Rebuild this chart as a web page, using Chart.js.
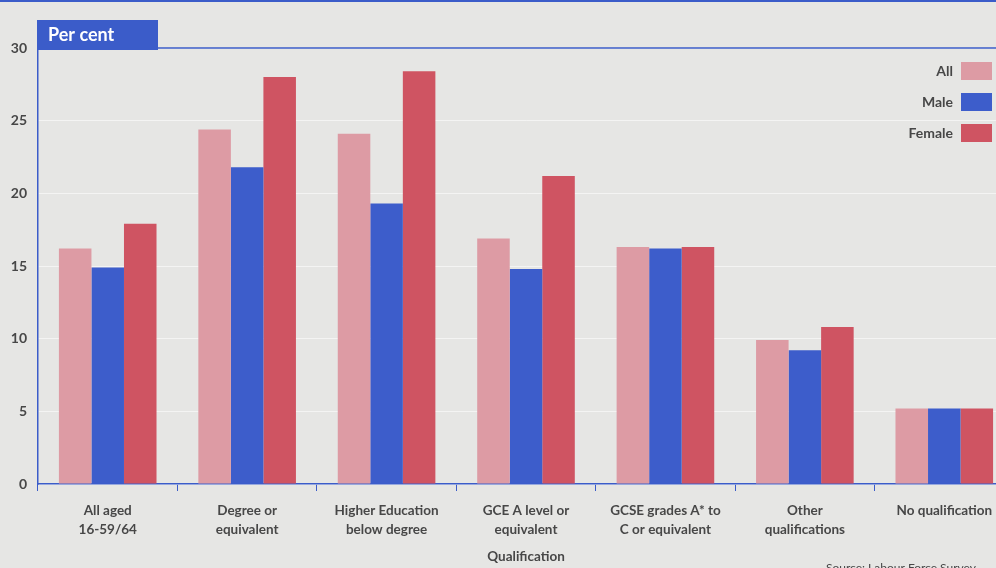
<!DOCTYPE html>
<html>
<head>
<meta charset="utf-8">
<script src="https://cdn.jsdelivr.net/npm/chart.js@4"></script>
<style>
  html, body { margin: 0; padding: 0; background: #e6e6e4; width: 996px; height: 568px; overflow: hidden; }
  #wrap { position: absolute; left: 0; top: 0; width: 1016px; height: 568px; }
</style>
</head>
<body>
<div id="wrap"><canvas id="qualChart" width="1016" height="568"></canvas></div>
<script>
const categories = [
  ["All aged", "16-59/64"],
  ["Degree or", "equivalent"],
  ["Higher Education", "below degree"],
  ["GCE A level or", "equivalent"],
  ["GCSE grades A* to", "C or equivalent"],
  ["Other", "qualifications"],
  ["No qualification"]
];
const allValues = [16.2, 24.4, 24.1, 16.9, 16.3, 9.9, 5.2];
const maleValues = [14.9, 21.8, 19.3, 14.8, 16.2, 9.2, 5.2];
const femaleValues = [17.9, 28.0, 28.4, 21.2, 16.3, 10.8, 5.2];
const yTicks = [0, 5, 10, 15, 20, 25, 30];

const blue = "#3b5cc9";
const textCol = "#474747";
const font = "Lato";

// box label, legend, top rule and source line
const decor = {
  id: "decor",
  afterDraw(chart) {
    const ctx = chart.ctx;
    const area = chart.chartArea;
    ctx.save();
    ctx.fillStyle = blue;
    ctx.fillRect(0, 0, 1016, 2);
    ctx.fillRect(37, 20, 121, 30);
    ctx.strokeStyle = blue;
    ctx.lineWidth = 1.5;
    ctx.beginPath();
    ctx.moveTo(158, area.top);
    ctx.lineTo(area.right, area.top);
    ctx.stroke();

    ctx.fillStyle = "#ffffff";
    ctx.font = "bold 18px " + font;
    ctx.textBaseline = "middle";
    ctx.fillText("Per cent", 48, 35);

    ctx.font = "bold 14px " + font;
    ctx.textAlign = "right";
    const ys = [71, 102, 133];
    chart.data.datasets.forEach((ds, i) => {
      ctx.fillStyle = textCol;
      ctx.fillText(ds.label, 953, ys[i]);
      ctx.fillStyle = ds.backgroundColor;
      ctx.fillRect(961, ys[i] - 9, 31, 18);
    });

    ctx.textAlign = "left";
    ctx.textBaseline = "top";
    ctx.font = "12px " + font;
    ctx.fillStyle = textCol;
    ctx.fillText("Source: Labour Force Survey", 826, 562);
    ctx.restore();
  }
};

new Chart(document.getElementById("qualChart"), {
  type: "bar",
  data: {
    labels: categories,
    datasets: [
      { label: "All", data: allValues, backgroundColor: "#dd9ba4" },
      { label: "Male", data: maleValues, backgroundColor: "#3d5dcb" },
      { label: "Female", data: femaleValues, backgroundColor: "#cf5462" }
    ]
  },
  options: {
    responsive: false,
    animation: false,
    layout: { padding: { top: 48, right: 2, left: 0, bottom: 0 } },
    datasets: { bar: { barPercentage: 1, categoryPercentage: 0.7 } },
    plugins: { legend: { display: false }, tooltip: { enabled: false } },
    scales: {
      x: {
        grid: { drawOnChartArea: false, drawTicks: true, tickLength: 7, color: blue, offset: true },
        border: { color: blue, width: 1.5 },
        ticks: { color: textCol, font: { family: font, weight: "bold", size: 13.5, lineHeight: 1.35 }, padding: 11, maxRotation: 0, autoSkip: false },
        title: { display: true, text: "Qualification", color: textCol, font: { family: font, weight: "bold", size: 13.5 }, padding: { top: 4, bottom: 3 } },
        afterFit: s => { s.height = 84; }
      },
      y: {
        min: 0,
        max: 30,
        afterBuildTicks: s => { s.ticks = yTicks.map(v => ({ value: v })); },
        grid: { color: "rgba(255,255,255,0.55)", drawTicks: false },
        border: { color: blue, width: 1.5 },
        ticks: { color: textCol, font: { family: font, weight: "bold", size: 14 }, padding: 11 },
        afterFit: s => { s.width = 38; }
      }
    }
  },
  plugins: [decor]
});
</script>
</body>
</html>
